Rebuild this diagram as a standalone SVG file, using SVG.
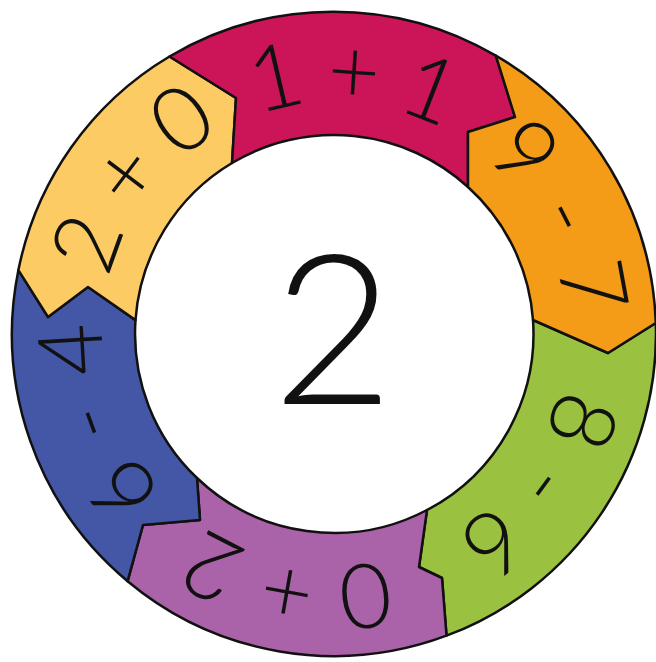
<svg xmlns="http://www.w3.org/2000/svg" xmlns:xlink="http://www.w3.org/1999/xlink" width="656" height="662" viewBox="0 0 656 662">
<style>
.seg{stroke:#111;stroke-width:2.5;stroke-linejoin:round}
.lbl{font-family:Lato,"Open Sans","Liberation Sans",sans-serif;font-weight:300;font-size:90px;fill:#111}
.plus{letter-spacing:-3.5px}
.minus{letter-spacing:0px}
.big{font-family:Lato,"Open Sans","Liberation Sans",sans-serif;font-weight:300;font-size:209px;fill:#111}
</style>
<defs>
<path id="ring" d="M424.65,547.56 A232,232 0 0 1 243.35,120.44 A232,232 0 0 1 424.65,547.56"/>
</defs>
<rect width="656" height="662" fill="#fff"/>
<g id="seg-green">
<path class="seg" fill="#9AC13F" d="M655.8,323 L608,353 L533,320 A199,199 0 0 1 427,510 L419,567 L442,578 L446.5,635.7 A322,322 0 0 0 655.8,323 Z"/>
<text class="lbl minus"><textPath href="#ring" xlink:href="#ring" startOffset="91.4%" text-anchor="middle">8 - 6</textPath></text>
</g>
<g id="seg-purple">
<path class="seg" fill="#AA62A8" d="M446.5,635.7 L442,578 L419,567 L427,510 A199,199 0 0 1 197,478 L200,520 L143,525 L127.6,581.2 A322,322 0 0 0 446.5,635.7 Z"/>
<text class="lbl plus"><textPath href="#ring" xlink:href="#ring" startOffset="9.17%" text-anchor="middle">0 + 2</textPath></text>
</g>
<g id="seg-blue">
<path class="seg" fill="#4457A6" d="M127.6,581.2 L143,525 L200,520 L197,478 A199,199 0 0 1 135.5,320.1 L88,287 L48,317 L18.4,270.1 A322,322 0 0 0 127.6,581.2 Z"/>
<text class="lbl minus"><textPath href="#ring" xlink:href="#ring" startOffset="25.83%" text-anchor="middle">6 - 4</textPath></text>
</g>
<g id="seg-yellow">
<path class="seg" fill="#FDCB63" d="M18.4,270.1 L48,317 L88,287 L135.5,320.1 A199,199 0 0 1 232,163 L236,98 L169.5,56.5 A322,322 0 0 0 18.4,270.1 Z"/>
<text class="lbl plus"><textPath href="#ring" xlink:href="#ring" startOffset="41.67%" text-anchor="middle">2 + 0</textPath></text>
</g>
<g id="seg-red">
<path class="seg" fill="#CB1558" d="M169.5,56.5 L236,98 L232,163 A199,199 0 0 1 468,187 L468,132 L515,117 L495.8,55.6 A322,322 0 0 0 169.5,56.5 Z"/>
<text class="lbl plus"><textPath href="#ring" xlink:href="#ring" startOffset="57.5%" text-anchor="middle">1 + 1</textPath></text>
</g>
<g id="seg-orange">
<path class="seg" fill="#F49B17" d="M495.8,55.6 L515,117 L468,132 L468,187 A199,199 0 0 1 533,320 L608,353 L655.8,323 A322,322 0 0 0 495.8,55.6 Z"/>
<text class="lbl minus"><textPath href="#ring" xlink:href="#ring" startOffset="73.89%" text-anchor="middle">9 - 7</textPath></text>
</g>
<g id="center">
<text class="big" x="333" y="404" text-anchor="middle">2</text>
</g>
</svg>
